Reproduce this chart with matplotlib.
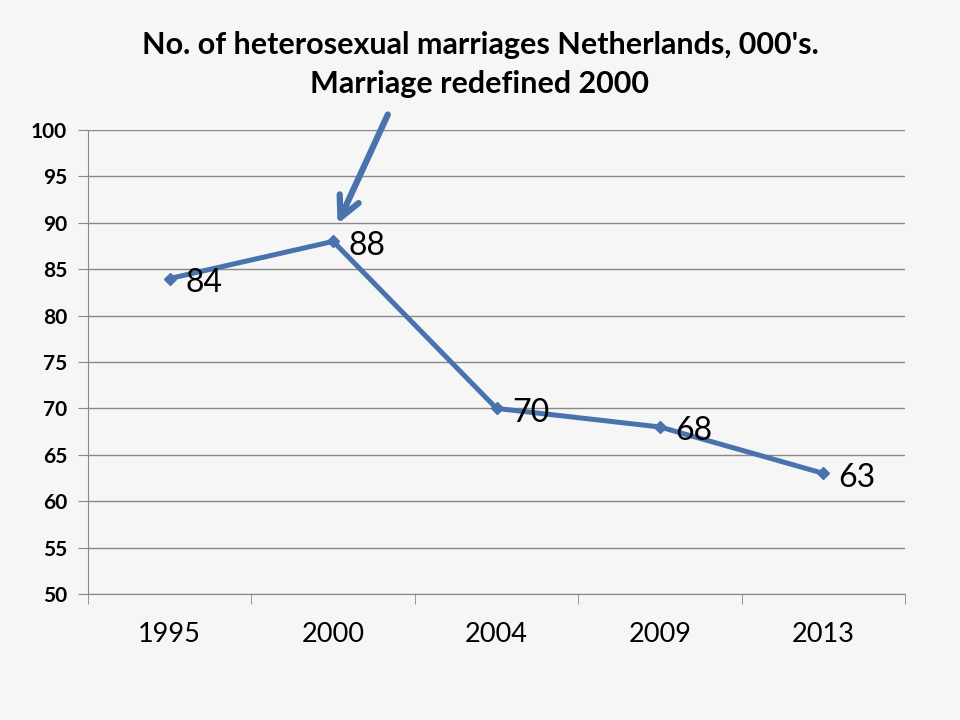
import matplotlib.pyplot as plt

plt.rcParams['font.family'] = ['Lato', 'DejaVu Sans']

years = ['1995', '2000', '2004', '2009', '2013']
marriages = [84, 88, 70, 68, 63]
y_ticks = list(range(50, 101, 5))

blue = '#4a72ad'
bg = '#f6f6f6'

fig = plt.figure(figsize=(9.6, 7.2), dpi=100, facecolor=bg)
ax = fig.add_axes([0.0917, 0.175, 0.851, 0.6444], facecolor=bg)

x = list(range(len(years)))
ax.plot(x, marriages, color=blue, lw=3.6, marker='D', ms=6, zorder=3)

# data labels
for xi, v in zip(x, marriages):
    ax.annotate(str(v), (xi, v), xytext=(11, -3), textcoords='offset points',
                fontsize=23, va='center', ha='left', color='black')

ax.set_xlim(-0.5, len(years) - 0.5)
ax.set_ylim(50, 100)
ax.set_yticks(y_ticks)
ax.set_yticklabels([str(t) for t in y_ticks], fontweight='bold', fontsize=15)
ax.yaxis.grid(True, color='#888888', lw=1)
ax.set_axisbelow(True)

ax.set_xticks(x)
ax.set_xticklabels(years, fontsize=19.5)
ax.set_xticks([i - 0.5 for i in range(len(years) + 1)], minor=True)
ax.tick_params(axis='x', which='major', length=0, pad=20)
ax.tick_params(axis='x', which='minor', length=7, color='#888888')
ax.tick_params(axis='y', length=7, color='#888888', pad=8)

for s in ['top', 'right']:
    ax.spines[s].set_visible(False)
for s in ['left', 'bottom']:
    ax.spines[s].set_color('#888888')

fig.text(0.5, 0.938, "No. of heterosexual marriages Netherlands, 000's.",
         ha='center', va='center', fontsize=22, fontweight='bold')
fig.text(0.5, 0.884, "Marriage redefined 2000",
         ha='center', va='center', fontsize=22, fontweight='bold')

# arrow pointing at 2000
ax.annotate('', xy=(1.02, 89.6), xycoords='data',
            xytext=(389 / 960, 1 - 112 / 720), textcoords='figure fraction',
            arrowprops=dict(arrowstyle='->,head_length=1.5,head_width=0.75',
                            color=blue, lw=4.5))

fig.savefig('out.png', dpi=100, facecolor=bg)
